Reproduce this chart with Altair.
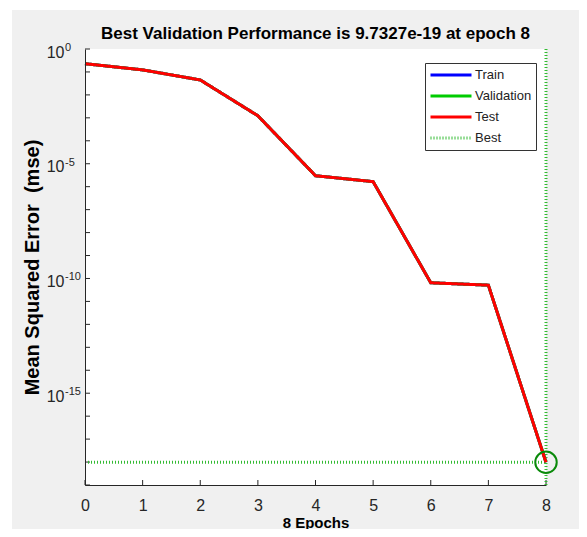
import altair as alt
import pandas as pd

# ---------------- data ----------------
epochs = [0, 1, 2, 3, 4, 5, 6, 7, 8]
train_mse = [0.229, 0.123, 0.0447, 1.23e-3, 3.0e-6, 1.66e-6, 6.5e-11, 5.1e-11, 9.7327e-19]
val_mse = [0.229, 0.123, 0.0447, 1.23e-3, 3.0e-6, 1.66e-6, 6.5e-11, 5.1e-11, 9.7327e-19]
test_mse = [0.229, 0.123, 0.0447, 1.23e-3, 3.0e-6, 1.66e-6, 6.5e-11, 5.1e-11, 9.7327e-19]
best_epoch = 8
best_perf = 9.7327e-19
y_min, y_max = 1e-19, 1.0
series_names = ["Train", "Validation", "Test", "Best"]
series_colors = ["#0000ff", "#00cc00", "#ff0000", "#33bb33"]
decades = list(range(-19, 1))
label_values = [1.0, 1e-5, 1e-10, 1e-15]
label_exponents = ["0", "-5", "-10", "-15"]
title_text = "Best Validation Performance is 9.7327e-19 at epoch 8"
x_title = "8 Epochs"
y_title = "Mean Squared Error\u00a0 (mse)"

# ---------------- tables ----------------
rows = []
for name, vals in [("Train", train_mse), ("Validation", val_mse), ("Test", test_mse)]:
    for e, v in zip(epochs, vals):
        rows.append({"series": name, "epoch": e, "mse": v, "seg": name})
lines_df = pd.DataFrame(rows)

best_df = pd.DataFrame([
    {"series": "Best", "epoch": epochs[0], "mse": best_perf, "seg": "h"},
    {"series": "Best", "epoch": best_epoch, "mse": best_perf, "seg": "h"},
    {"series": "Best", "epoch": best_epoch, "mse": y_min, "seg": "v"},
    {"series": "Best", "epoch": best_epoch, "mse": y_max, "seg": "v"},
])
circle_df = pd.DataFrame([{"epoch": best_epoch, "mse": best_perf}])
yticks_df = pd.DataFrame({"mse": [10.0 ** d for d in decades]})
xticks_df = pd.DataFrame({"epoch": epochs})
ylab_df = pd.DataFrame({"mse": label_values, "exp": label_exponents})

W, H = 461, 436
PAD_R = 33
PAD_B = 44
FONT = "Liberation Sans"
AX = "#262626"

x_scale = alt.Scale(domain=[epochs[0], epochs[-1]], nice=False, zero=False)
y_scale = alt.Scale(type="log", domain=[y_min, y_max], nice=False)


def xenc():
    return alt.X("epoch:Q", scale=x_scale, axis=alt.Axis(
        values=epochs, format="d", title=x_title, grid=False, ticks=False, tickSize=0,
        domainColor=AX, domainWidth=1, labelFont=FONT, labelFontSize=16, labelColor=AX,
        labelPadding=12, labelFlush=False, labelOverlap=False,
        titleFont=FONT, titleFontSize=15, titleFontWeight="bold", titleColor="#000000",
        titleY=30, titleBaseline="top", zindex=1))


def yenc():
    return alt.Y("mse:Q", scale=y_scale, axis=alt.Axis(
        values=label_values, labelExpr="'10'", title=y_title, grid=False, ticks=False,
        tickSize=0, domainColor=AX, domainWidth=1, labelFont=FONT, labelFontSize=16,
        labelColor=AX, labelPadding=21, labelOffset=3, labelFlush=False, labelOverlap=False,
        titleFont=FONT, titleFontSize=20, titleFontWeight="bold", titleColor="#000000",
        titleX=-47, titleY=H / 2, titleAngle=-90, titleBaseline="alphabetic", zindex=1))


color_enc = alt.Color("series:N", scale=alt.Scale(domain=series_names, range=series_colors),
                      legend=alt.Legend(title=None))
dash_enc = alt.StrokeDash("series:N", scale=alt.Scale(domain=series_names,
                          range=[[1, 0], [1, 0], [1, 0], [1, 2]]), legend=alt.Legend(title=None))
width_enc = alt.StrokeWidth("series:N", scale=alt.Scale(domain=series_names, range=[3, 3, 3, 1]),
                            legend=alt.Legend(title=None))

one = alt.Data(values=[{}])
gray_bg = alt.Chart(one).mark_rect(color="#f0f0f0").encode(
    x=alt.value(-73), x2=alt.value(W + PAD_R), y=alt.value(-39), y2=alt.value(H + PAD_B))
white_bg = alt.Chart(one).mark_rect(color="#ffffff").encode(
    x=alt.value(0), x2=alt.value(W), y=alt.value(0), y2=alt.value(H))


def series_layer(name):
    return alt.Chart(lines_df).transform_filter(alt.datum.series == name).mark_line(
        strokeCap="butt", strokeJoin="miter").encode(
        x=xenc(), y=yenc(), color=color_enc, strokeDash=dash_enc, strokeWidth=width_enc,
        detail="seg:N", order="epoch:Q")


best_layer = alt.Chart(best_df).mark_line(strokeCap="butt").encode(
    x=xenc(), y=yenc(), color=color_enc, strokeDash=dash_enc, strokeWidth=width_enc,
    detail="seg:N")

circle_layer = alt.Chart(circle_df).mark_point(
    shape="circle", filled=False, color="#0a8a0a", strokeWidth=2, size=460, opacity=1).encode(
    x=xenc(), y=yenc())

ytick_layer = alt.Chart(yticks_df).mark_rule(color=AX, strokeWidth=1).encode(
    y=yenc(), x=alt.value(0), x2=alt.value(5))
xtick_layer = alt.Chart(xticks_df).mark_rule(color=AX, strokeWidth=1).encode(
    x=xenc(), y=alt.value(H), y2=alt.value(H - 5))

exp_layer = alt.Chart(ylab_df).mark_text(
    align="left", baseline="alphabetic", font=FONT, fontSize=11, color=AX, dy=2).encode(
    y=yenc(), x=alt.value(-20), text="exp:N")

chart = alt.layer(
    gray_bg, white_bg, ytick_layer, xtick_layer, exp_layer, best_layer,
    series_layer("Train"), series_layer("Validation"), series_layer("Test"),
    circle_layer,
).properties(
    width=W, height=H,
    title=alt.TitleParams(title_text, font=FONT, fontSize=17, fontWeight="bold",
                          color="#000000", anchor="middle", frame="group",
                          offset=0, baseline="alphabetic", dy=46),
    autosize=alt.AutoSizeParams(type="none"),
    padding={"left": 77, "top": 41, "right": PAD_R, "bottom": PAD_B},
    background="#ffffff",
).configure_view(stroke=None).configure_legend(
    orient="none", legendX=340, legendY=14, fillColor="#ffffff", strokeColor="#333333",
    padding=4, symbolType="stroke", symbolSize=1681, labelFont=FONT, labelFontSize=13,
    labelColor="#222222", labelOffset=2, rowPadding=5, clipHeight=16, cornerRadius=0,
)

chart.save("out.html", embed_options={"renderer": "svg", "actions": False})
